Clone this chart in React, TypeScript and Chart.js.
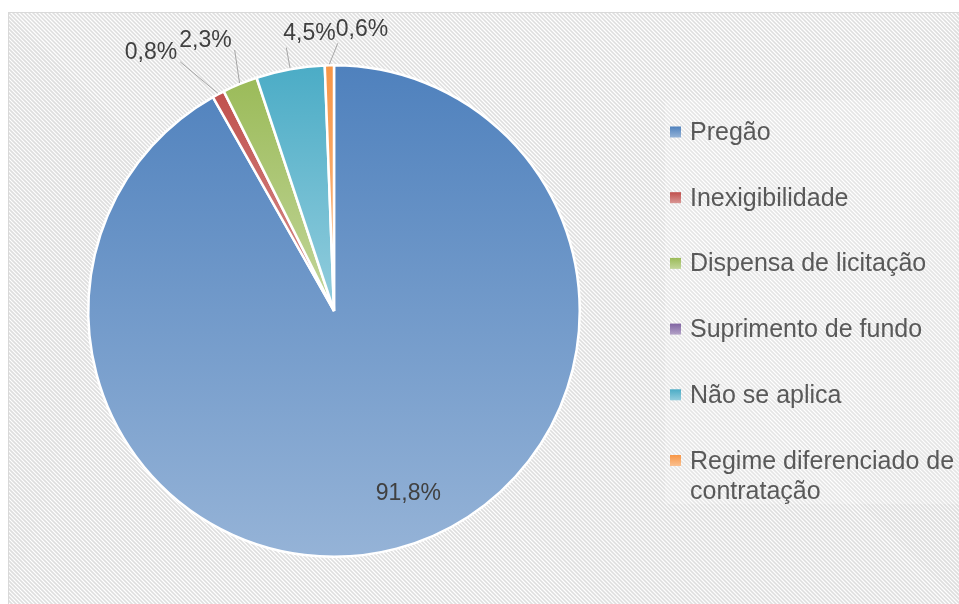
import React, { useEffect, useRef } from "react";
import { Chart, registerables } from "chart.js";

Chart.register(...registerables);

const categories = [
  "Pregão",
  "Inexigibilidade",
  "Dispensa de licitação",
  "Suprimento de fundo",
  "Não se aplica",
  "Regime diferenciado de contratação",
];
const shares = [91.8, 0.8, 2.3, 0, 4.5, 0.6];
const baseColors = ["#4F81BD", "#C0504D", "#9BBB59", "#8064A2", "#4BACC6", "#F79646"];

const W = 959;
const H = 604;
const FONT = '"Liberation Sans", Arial, sans-serif';

function fmt(v: number) {
  return v.toFixed(1).replace(".", ",") + "%";
}

function tint(hex: string, t: number) {
  const n = parseInt(hex.slice(1), 16);
  const r = (n >> 16) & 255, g = (n >> 8) & 255, b = n & 255;
  const m = (c: number) => Math.round(c + (255 - c) * t);
  return `rgb(${m(r)},${m(g)},${m(b)})`;
}

const bgPlugin = {
  id: "bgPlugin",
  beforeDraw(chart: any) {
    const ctx = chart.ctx as CanvasRenderingContext2D;
    ctx.save();
    ctx.fillStyle = "#ffffff";
    ctx.fillRect(0, 0, W, H);
    ctx.save();
    ctx.beginPath();
    ctx.rect(8, 12, W, H);
    ctx.clip();
    ctx.strokeStyle = "#dedede";
    ctx.lineWidth = 1.6;
    for (let x = -H; x < W + 10; x += 4) {
      ctx.beginPath();
      ctx.moveTo(x, 12);
      ctx.lineTo(x + H, 12 + H);
      ctx.stroke();
    }
    ctx.restore();
    ctx.strokeStyle = "#d9d9d9";
    ctx.lineWidth = 1;
    ctx.strokeRect(8.5, 12.5, W + 10, H + 10);
    // legend panel
    ctx.fillStyle = "rgba(255,255,255,0.22)";
    ctx.fillRect(665, 100, W - 665, 404);
    ctx.restore();
  },
};

const gradientPlugin = {
  id: "gradientPlugin",
  beforeDatasetsDraw(chart: any) {
    const ctx = chart.ctx as CanvasRenderingContext2D;
    const meta = chart.getDatasetMeta(0);
    meta.data.forEach((el: any, i: number) => {
      const { x, y, startAngle, endAngle, outerRadius } = el.getProps(
        ["x", "y", "startAngle", "endAngle", "outerRadius"],
        true
      );
      let minY = y, maxY = y;
      const consider = (a: number) => {
        const py = y + Math.sin(a) * outerRadius;
        minY = Math.min(minY, py);
        maxY = Math.max(maxY, py);
      };
      consider(startAngle);
      consider(endAngle);
      for (let k = -4; k <= 8; k++) {
        const a = (k * Math.PI) / 2;
        if (a > startAngle && a < endAngle) consider(a);
      }
      if (maxY - minY < 1) maxY = minY + 1;
      const g = ctx.createLinearGradient(0, minY, 0, maxY);
      g.addColorStop(0, baseColors[i]);
      g.addColorStop(1, tint(baseColors[i], 0.4));
      el.options = Object.assign({}, el.options, { backgroundColor: g });
    });
  },
};

const labelPlugin = {
  id: "labelPlugin",
  afterDatasetsDraw(chart: any) {
    const ctx = chart.ctx as CanvasRenderingContext2D;
    const meta = chart.getDatasetMeta(0);
    ctx.save();
    ctx.font = `23px ${FONT}`;
    ctx.fillStyle = "#404040";
    ctx.textBaseline = "middle";
    ctx.textAlign = "left";
    const boxH = 24;
    type Lbl = { i: number; phi: number; mid: number; text: string; w: number; x: number; y: number; r: number; box?: any; end?: any };
    const top: Lbl[] = [];
    const left: Lbl[] = [];
    meta.data.forEach((el: any, i: number) => {
      if (!shares[i]) return;
      const { x, y, startAngle, endAngle, outerRadius } = el.getProps(
        ["x", "y", "startAngle", "endAngle", "outerRadius"],
        true
      );
      const mid = (startAngle + endAngle) / 2;
      const text = fmt(shares[i]);
      const w = ctx.measureText(text).width;
      if (i === 0) {
        const a = mid - 0.13;
        const rr = outerRadius * 0.8;
        ctx.textAlign = "center";
        ctx.fillText(text, x + Math.cos(a) * rr, y + Math.sin(a) * rr + 1);
        ctx.textAlign = "left";
        return;
      }
      let phi = ((mid * 180) / Math.PI + 90) % 360;
      if (phi > 180) phi -= 360;
      const l: Lbl = { i, phi, mid, text, w, x, y, r: outerRadius };
      if (Math.abs(phi) < 15) top.push(l);
      else left.push(l);
    });
    const placed: any[] = [];
    const overlaps = (a: any, b: any) =>
      a.l < b.r && a.r > b.l && a.t < b.b && a.b > b.t;
    top.sort((a, b) => a.phi - b.phi);
    top.forEach((l) => {
      const d = l.r + 22;
      const ex = l.x + Math.cos(l.mid) * d;
      const ey = l.y + Math.sin(l.mid) * d;
      let box = { l: ex - 3, r: ex - 3 + l.w, b: ey - 2, t: ey - 2 - boxH };
      for (const p of placed) {
        if (overlaps(box, p)) box = { ...box, l: p.r, r: p.r + l.w };
      }
      placed.push(box);
      l.box = box;
      l.end = { x: Math.min(Math.max(ex, box.l + 2), box.r - 2), y: ey };
    });
    left.sort((a, b) => b.phi - a.phi);
    left.forEach((l) => {
      const d = l.r + 40;
      const ex = l.x + Math.cos(l.mid) * d;
      const ey = l.y + Math.sin(l.mid) * d;
      let box = { l: ex + 7 - l.w, r: ex + 7, b: ey + 6, t: ey + 6 - boxH };
      for (const p of placed) {
        if (overlaps(box, p)) box = { ...box, r: p.l - 2, l: p.l - 2 - l.w };
      }
      placed.push(box);
      l.box = box;
      l.end = { x: box.r + 3, y: box.b - 3 };
    });
    [...top, ...left].forEach((l) => {
      const sx = l.x + Math.cos(l.mid) * (l.r + 1);
      const sy = l.y + Math.sin(l.mid) * (l.r + 1);
      ctx.strokeStyle = "#a6a6a6";
      ctx.lineWidth = 1;
      ctx.beginPath();
      ctx.moveTo(sx, sy);
      ctx.lineTo(l.end.x, l.end.y);
      ctx.stroke();
      ctx.fillStyle = "#404040";
      ctx.fillText(l.text, l.box.l, (l.box.t + l.box.b) / 2);
    });
    ctx.restore();
  },
};

const legendPlugin = {
  id: "legendPlugin",
  afterDraw(chart: any) {
    const ctx = chart.ctx as CanvasRenderingContext2D;
    ctx.save();
    ctx.font = `25px ${FONT}`;
    ctx.textBaseline = "alphabetic";
    ctx.textAlign = "left";
    const x0 = 670;
    const y0 = 132;
    const step = 65.7;
    const maxW = 272;
    categories.forEach((name, i) => {
      const cy = y0 + i * step;
      const g = ctx.createLinearGradient(0, cy - 5.5, 0, cy + 5.5);
      g.addColorStop(0, baseColors[i]);
      g.addColorStop(1, tint(baseColors[i], 0.4));
      ctx.fillStyle = g;
      ctx.fillRect(x0, cy - 5.5, 11, 11);
      const words = name.split(" ");
      const lines: string[] = [];
      let cur = "";
      words.forEach((w) => {
        const test = cur ? cur + " " + w : w;
        if (ctx.measureText(test).width > maxW && cur) {
          lines.push(cur);
          cur = w;
        } else cur = test;
      });
      if (cur) lines.push(cur);
      ctx.fillStyle = "#595959";
      lines.forEach((ln, k) => {
        ctx.fillText(ln, x0 + 20, cy + 8 + k * 30);
      });
    });
    ctx.restore();
  },
};

export default function App() {
  const ref = useRef<HTMLCanvasElement | null>(null);
  useEffect(() => {
    if (!ref.current) return;
    const chart = new Chart(ref.current, {
      type: "pie",
      data: {
        labels: categories,
        datasets: [
          {
            data: shares,
            backgroundColor: baseColors,
            borderColor: "#ffffff",
            borderWidth: 2.5,
          },
        ],
      },
      options: {
        responsive: false,
        animation: false,
        events: [],
        layout: { padding: { left: 87, right: 378, top: 64, bottom: 46 } },
        plugins: {
          legend: { display: false },
          tooltip: { enabled: false },
        },
      },
      plugins: [bgPlugin, gradientPlugin, labelPlugin, legendPlugin],
    } as any);
    return () => chart.destroy();
  }, []);
  return (
    <div style={{ position: "fixed", left: 0, top: 0, width: W, height: H }}>
      <canvas ref={ref} width={W} height={H} style={{ display: "block", width: W, height: H }} />
    </div>
  );
}
